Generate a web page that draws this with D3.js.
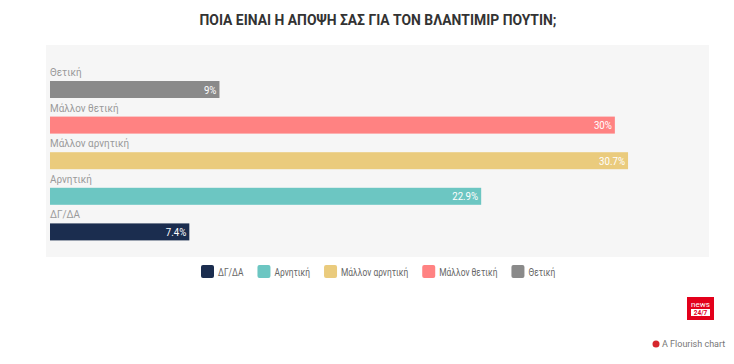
<!DOCTYPE html>
<html><head><meta charset="utf-8">
<script src="https://cdn.jsdelivr.net/npm/d3@7"></script>
<style>body{margin:0;background:#fff;}svg{display:block;font-family:Roboto,"Noto Sans",sans-serif;}</style>
</head><body><svg id="c" width="734" height="364"></svg>
<script>
const title = "ΠΟΙΑ ΕΙΝΑΙ Η ΑΠΟΨΗ ΣΑΣ ΓΙΑ ΤΟΝ ΒΛΑΝΤΙΜΙΡ ΠΟΥΤΙΝ;";
const categories = ["Θετική","Μάλλον θετική","Μάλλον αρνητική","Αρνητική","ΔΓ/ΔΑ"];
const values = [9, 30, 30.7, 22.9, 7.4];
const valueLabels = ["9%","30%","30.7%","22.9%","7.4%"];
const colors = ["#8a8a8a","#ff8282","#eacb7d","#6cc6c2","#1b2d4f"];
const legendOrder = ["ΔΓ/ΔΑ","Αρνητική","Μάλλον αρνητική","Μάλλον θετική","Θετική"];

const svg = d3.select("#c");
const color = d3.scaleOrdinal().domain(categories).range(colors);

function condense(sel, f){
  const w = sel.node().getComputedTextLength();
  sel.attr("textLength", w*f).attr("lengthAdjust","spacingAndGlyphs");
  return w*f;
}

svg.append("text").attr("x",378).attr("y",25).attr("text-anchor","middle")
  .attr("font-size",15.5).attr("font-weight",700).attr("fill","#333")
  .attr("textLength",357).attr("lengthAdjust","spacingAndGlyphs").text(title);

// panel
svg.append("rect").attr("x",46).attr("y",45).attr("width",663).attr("height",212).attr("fill","#f6f6f6");

const x = d3.scaleLinear().domain([0,35]).range([50,709]);
const y = d3.scaleBand().domain(categories).range([63,241]).paddingInner(0).paddingOuter(0);
const barH = 17;

const g = svg.append("g");
categories.forEach((c,i)=>{
  const top = y(c);
  const lab = g.append("text").attr("x",50).attr("y",top+13).attr("font-size",11).attr("fill","#9a9a9a").text(c);
  condense(lab, 0.9);
  g.append("rect").attr("x",x(0)).attr("y",top+18).attr("width",x(values[i])-x(0)).attr("height",barH).attr("fill",color(c));
  const v = g.append("text").attr("x",x(values[i])-3).attr("y",top+18+barH/2+4).attr("text-anchor","end")
    .attr("font-size",11).attr("fill","#fff").text(valueLabels[i]);
  condense(v, 0.88);
});

// legend
const lg = svg.append("g");
let lx = 201;
legendOrder.forEach(c=>{
  const it = lg.append("g").attr("transform",`translate(${lx},265)`);
  it.append("rect").attr("width",13).attr("height",13).attr("rx",2).attr("fill",color(c));
  const t = it.append("text").attr("x",17).attr("y",10.5).attr("font-size",10.5).attr("fill","#666").text(c);
  const w = condense(t, 0.8);
  lx += 17 + w + 14;
});

// logo
svg.append("rect").attr("x",687).attr("y",297).attr("width",27).attr("height",23).attr("fill","#e3001b");
svg.append("text").attr("x",700.5).attr("y",307).attr("text-anchor","middle").attr("font-size",8).attr("fill","#fff").text("news");
svg.append("rect").attr("x",691).attr("y",309).attr("width",19).attr("height",7).attr("fill","#fff");
svg.append("text").attr("x",700.5).attr("y",315).attr("text-anchor","middle").attr("font-size",6.5).attr("font-weight",700).attr("fill","#e3001b").text("24/7");

svg.append("circle").attr("cx",656).attr("cy",344).attr("r",3.5).attr("fill","#d6262c");
svg.append("text").attr("x",662).attr("y",347).attr("font-size",9).attr("fill","#777").text("A Flourish chart");
</script></body></html>
